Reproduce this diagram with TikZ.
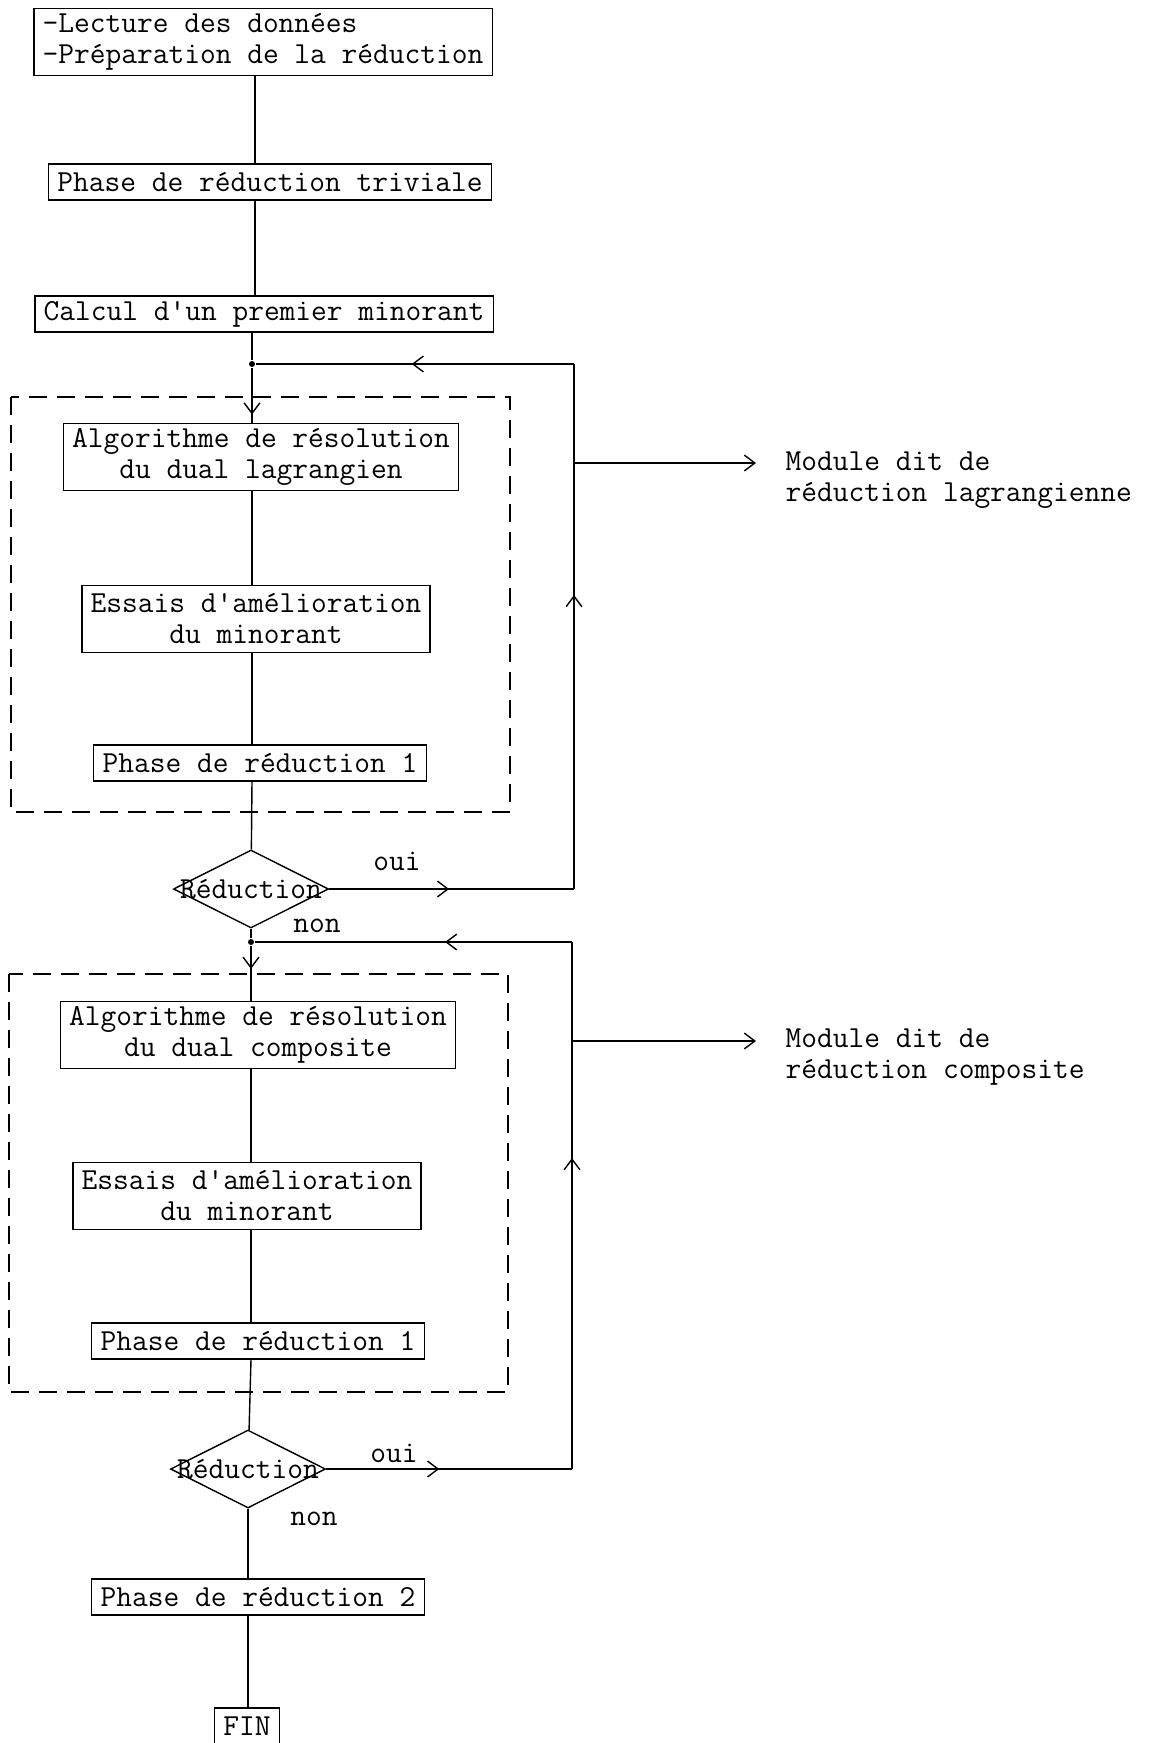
\documentclass[tikz,border=0pt]{standalone}
\usepackage{tikz}
\usetikzlibrary{calc,arrows.meta,decorations.markings,shapes.geometric}

\begin{document}
\begin{tikzpicture}[x=0.02cm, y=-0.02cm, line width=0.8pt,
  font=\fontsize{17.4}{17.6}\selectfont\ttfamily,
  box/.style={draw, rectangle, inner xsep=5pt, inner ysep=2pt, minimum height=0.72cm, align=center},
  box2/.style={box, minimum height=1.34cm},
  test/.style={draw, diamond, inner sep=0pt, minimum width=3.1cm, minimum height=1.56cm},
  tip/.style={-{Straight Barb[length=6pt,width=9pt]}},
  midtip/.style={postaction={decorate}, decoration={markings, mark=at position #1 with {\arrow{Straight Barb[length=6pt,width=9pt]}}}},
  cadre/.style={dash pattern=on 0.36cm off 0.2cm},
  dot/.style={circle, fill, inner sep=0pt, minimum size=0.12cm}]
\useasboundingbox (0,0) rectangle (1153,1743);
% tronc commun
\coordinate (s1) at (255,0);
\node[box2, align=left] (lect) at (263,42) {-Lecture des données\\-Préparation de la réduction};
\node[box] (triv) at (270,182) {Phase de réduction triviale};
\node[box] (prem) at (264,314) {Calcul d\textquotesingle un premier minorant};
\node[dot] (n1) at (252,364) {};
\coordinate (c1) at (574,364);
% module lagrangien
\draw[cadre] (11,397) rectangle (510,812);
\node[box2] (algo1) at (261,457) {Algorithme de résolution\\du dual lagrangien};
\node[box2] (ess1) at (256,619) {Essais d\textquotesingle amélioration\\du minorant};
\node[box] (red1) at (260,763) {Phase de réduction 1};
\node[test] (test1) at (251,889) {};
\node (mot1) at (test1) {Réduction};
\coordinate (d1) at (574,889);
\node (oui1) at (397,861) {oui};
\node (non1) at (317,926) {non};
\coordinate (m1) at (574,463);
\coordinate (e1) at (756,463);
\node[anchor=west, align=left] (mod1) at (779,480) {Module dit de\\réduction lagrangienne};
% module composite
\node[dot] (n2) at (251,942) {};
\coordinate (c2) at (572,942);
\draw[cadre] (9,974) rectangle (508,1392);
\node[box2] (algo2) at (258,1035) {Algorithme de résolution\\du dual composite};
\node[box2] (ess2) at (247,1196) {Essais d\textquotesingle amélioration\\du minorant};
\node[box] (red2) at (258,1341) {Phase de réduction 1};
\node[test] (test2) at (248,1469) {};
\node (mot2) at (test2) {Réduction};
\coordinate (d2) at (572,1469);
\node (oui2) at (394,1453) {oui};
\node (non2) at (314,1519) {non};
\coordinate (m2) at (572,1041);
\coordinate (e2) at (756,1041);
\node[anchor=west, align=left] (mod2) at (779,1057) {Module dit de\\réduction composite};
% fin
\node[box] (red3) at (258,1597) {Phase de réduction 2};
\node[box] (fin) at (247,1726) {FIN};

\draw (lect.south -| s1) -- (triv.north -| s1);
\draw (triv.south -| s1) -- (prem.north -| s1);
\draw (prem.south -| n1) -- (n1);
\draw[midtip=0.85] (n1) -- (algo1.north -| n1);
\draw (algo1.south -| n1) -- (ess1.north -| n1);
\draw (ess1.south -| n1) -- (red1.north -| n1);
\draw (red1.south -| n1) -- (test1);
\draw[midtip=0.49] (test1.east) -- (d1);
\draw[midtip=0.56] (d1) -- (c1);
\draw[midtip=0.51] (c1) -- (n1);
\draw[tip] (m1) -- (e1);
\draw (test1) -- (n2);
\draw[midtip=0.42] (n2) -- (algo2.north -| n2);
\draw (algo2.south -| n2) -- (ess2.north -| n2);
\draw (ess2.south -| n2) -- (red2.north -| n2);
\draw (red2.south -| n2) -- (test2);
\draw[midtip=0.46] (test2.east) -- (d2);
\draw[midtip=0.59] (d2) -- (c2);
\draw[midtip=0.4] (c2) -- (n2);
\draw[tip] (m2) -- (e2);
\draw (test2) -- (red3.north -| test2);
\draw (red3.south -| test2) -- (fin.north -| test2);
\end{tikzpicture}
\end{document}
